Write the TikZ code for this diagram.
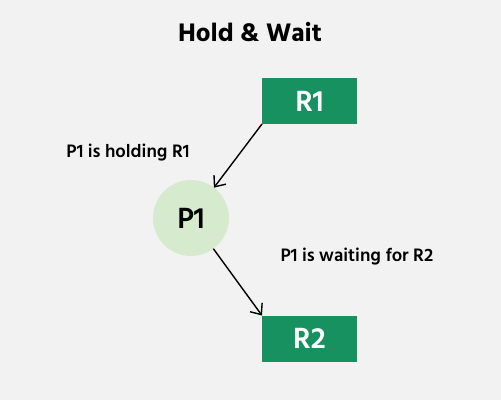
\documentclass[tikz,border=0pt]{standalone}
\usepackage{fontspec}
\setmainfont{Hind Siliguri}
\newfontfamily\medfont{Hind Siliguri SemiBold}
\newfontfamily\boldfont{Hind Siliguri Bold}
\usetikzlibrary{arrows.meta}
\definecolor{boxgreen}{RGB}{24,145,96}
\definecolor{procgreen}{RGB}{214,235,206}
\definecolor{bggray}{RGB}{242,242,242}
\begin{document}
\begin{tikzpicture}[x=1pt,y=-1pt,
	res/.style={fill=boxgreen, text=white, minimum width=95pt, minimum height=46pt, inner sep=0pt, outer sep=0pt, font=\medfont\fontsize{30}{34}\selectfont},
	proc/.style={circle, fill=procgreen, minimum size=76pt, inner sep=0pt, outer sep=0pt, font=\medfont\fontsize{30}{34}\selectfont},
	lbl/.style={font=\medfont\fontsize{18.5}{22}\selectfont},
	edge/.style={-{Straight Barb[length=9pt,width=15pt]}, line width=1.4pt}]
	\fill[bggray] (0,0) rectangle (501,400);
	\useasboundingbox (0,0) rectangle (501,400);

	\node[font=\boldfont\fontsize{26}{30}\selectfont] (title) at (250,32) {Hold \& Wait};

	\node[res] (R1) at (309.5,101) {R1};
	\node[proc] (P1) at (191,218) {P1};
	\node[res] (R2) at (309.5,338.5) {R2};

	\node[lbl] (hold) at (128,153) {P1 is holding R1};
	\node[lbl] (wait) at (357,257) {P1 is waiting for R2};

	\draw[edge] (R1.south west) -- (P1);
	\draw[edge] (P1) -- (R2.north west);
\end{tikzpicture}
\end{document}
